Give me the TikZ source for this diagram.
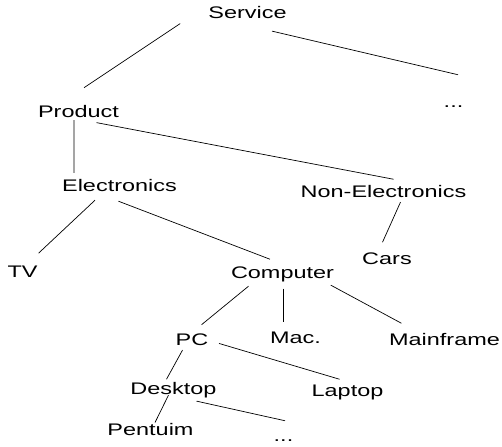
\documentclass[tikz,border=0pt]{standalone}
\usepackage{fontspec}
\setmainfont{Liberation Sans}[FakeStretch=1.4]
\usepackage{tikz}

\begin{document}
\begin{tikzpicture}[x=0.03cm,y=-0.03cm,
  term/.style={anchor=base,inner sep=1.7pt,text height=10.7pt,text depth=2.9pt,
    font=\fontsize{14.3}{17}\selectfont},
  edge/.style={line width=0.6pt}]
\useasboundingbox (0,0) rectangle (502,447);
% categories, placed on their baselines
\node[term] (svc) at (247.5,18) {Service};
\node[term] (more1) at (453.5,107) {...};
\node[term] (prod) at (78.5,117) {Product};
\node[term] (elec) at (119.5,191) {Electronics};
\node[term] (nonel) at (383.5,197) {Non-Electronics};
\node[term] (tv) at (22.5,277) {TV};
\node[term] (comp) at (282.5,278) {Computer};
\node[term] (cars) at (387,264) {Cars};
\node[term] (pc) at (192,345.5) {PC};
\node[term] (mac) at (295.5,343) {Mac.};
\node[term] (mainf) at (444.5,345) {Mainframe};
\node[term] (desk) at (173.5,394) {Desktop};
\node[term] (lap) at (347.5,396.5) {Laptop};
\node[term] (pent) at (150.5,435) {Pentuim};
\node[term] (more2) at (283.5,441) {...};
% links between parent and child
\draw[edge] ([shift={(-26,0)}]svc.south west) -- ([shift={(5.5,-14.5)}]prod.north);
\draw[edge] ([shift={(24.5,7.5)}]svc.south) -- ([shift={(4.5,-17.5)}]more1.north);
\draw[edge] ([shift={(-4.5,-2.4)}]prod.south) -- ([shift={(14,-3.4)}]elec.north west);
\draw[edge] ([shift={(18,0)}]prod.south) -- ([shift={(10,-3)}]nonel.north);
\draw[edge] ([shift={(-24.5,3.6)}]elec.south) -- ([shift={(16,-9)}]tv.north);
\draw[edge] ([shift={(-1,4.6)}]elec.south) -- ([shift={(-12.5,-4)}]comp.north);
\draw[edge] ([shift={(17,-0.5)}]nonel.south) -- ([shift={(-4.5,-7)}]cars.north);
\draw[edge] ([shift={(-34,2.6)}]comp.south) -- ([shift={(9.5,-6)}]pc.north);
\draw[edge] ([shift={(1,5)}]comp.south) -- ([shift={(-12,-6.5)}]mac.north);
\draw[edge] ([shift={(-5.5,1.5)}]comp.south east) -- ([shift={(14.5,-7)}]mainf.north west);
\draw[edge] ([shift={(-9.5,-1)}]pc.south) -- ([shift={(-7,0)}]desk.north);
\draw[edge] ([shift={(8.5,2.5)}]pc.east) -- ([shift={(-8,-2.5)}]lap.north);
\draw[edge] ([shift={(-5,-4.5)}]desk.south) -- ([shift={(4.5,2.3)}]pent.north);
\draw[edge] ([shift={(23,1.5)}]desk.south) -- ([shift={(1.5,-5.5)}]more2.north);
\end{tikzpicture}
\end{document}
